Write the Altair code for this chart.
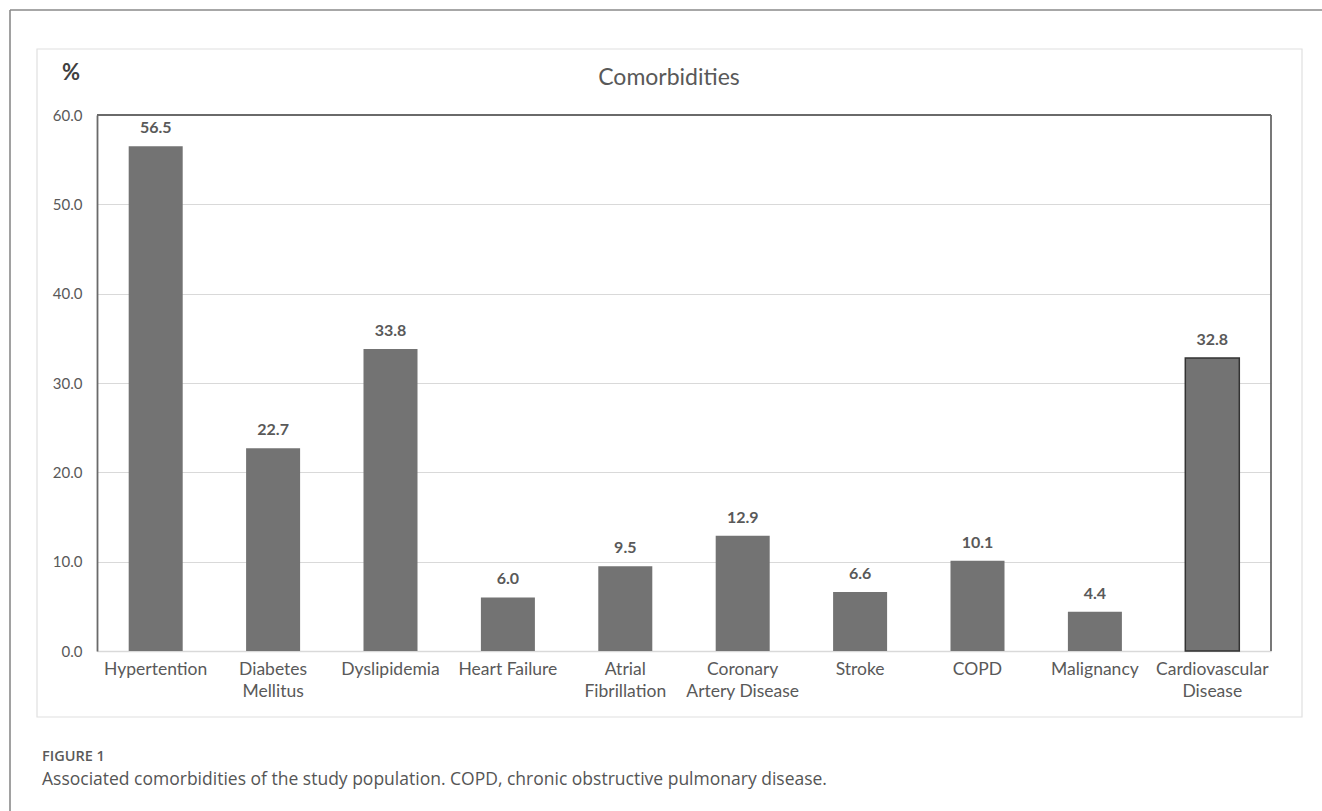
import altair as alt
import pandas as pd

categories = ["Hypertention", "Diabetes|Mellitus", "Dyslipidemia", "Heart Failure",
              "Atrial|Fibrillation", "Coronary|Artery Disease", "Stroke", "COPD",
              "Malignancy", "Cardiovascular|Disease"]
values = [56.5, 22.7, 33.8, 6.0, 9.5, 12.9, 6.6, 10.1, 4.4, 32.8]
y_ticks = [0, 10, 20, 30, 40, 50, 60]

df = pd.DataFrame({"category": categories, "value": values})
one = pd.DataFrame({"k": [0]})

W, H = 1174, 536
PL, PT = 97, 115
TOTAL_W, TOTAL_H = 1322, 811

x_enc = alt.X("category:N", sort=None,
              scale=alt.Scale(paddingInner=0.54, paddingOuter=0.27),
              axis=alt.Axis(title=None, labelAngle=0, labelExpr="split(datum.label, '|')",
                            ticks=False, domainColor="#d9d9d9", domainWidth=1.5,
                            labelColor="#595959", labelFont="Lato", labelFontSize=17.5,
                            labelPadding=9, labelLineHeight=22, grid=False,
                            labelBaseline="top"))
y_enc = alt.Y("value:Q",
              scale=alt.Scale(domain=[0, 60], nice=False),
              axis=alt.Axis(title=None, values=y_ticks, format=".1f", ticks=False,
                            labelColor="#595959", labelFont="Lato", labelFontSize=15,
                            labelPadding=15, gridColor="#d9d9d9", gridWidth=1.2,
                            domainColor="#6a6a6a", domainWidth=1.8))

base = alt.Chart(df)
bars = base.mark_bar(color="#737373", stroke="#333333", strokeWidth=1.5).encode(
    x=x_enc, y=y_enc,
    strokeOpacity=alt.condition(alt.datum.category == "Cardiovascular|Disease",
                                alt.value(1), alt.value(0)))
labels = base.mark_text(baseline="middle", dy=-18, font="Lato", fontSize=16,
                        fontWeight="bold", color="#595959").encode(
    x=alt.X("category:N", sort=None), y="value:Q", text=alt.Text("value:Q", format=".1f"))

c1 = alt.Chart(one)
top_rule = c1.mark_rule(color="#6a6a6a", strokeWidth=1.8).encode(
    x=alt.value(0), x2=alt.value(W), y=alt.value(0))
right_rule = c1.mark_rule(color="#6a6a6a", strokeWidth=1.8).encode(
    x=alt.value(W), y=alt.value(0), y2=alt.value(H))

inner_frame = c1.mark_rect(fillOpacity=0, stroke="#e0e0e0", strokeWidth=1.2).encode(
    x=alt.value(37 - PL), x2=alt.value(1302 - PL),
    y=alt.value(49 - PT), y2=alt.value(717 - PT))

outer_top = c1.mark_rule(color="#8a8a8a", strokeWidth=1.6).encode(
    x=alt.value(10 - PL), x2=alt.value(TOTAL_W - PL), y=alt.value(10 - PT))
outer_left = c1.mark_rule(color="#8a8a8a", strokeWidth=1.6).encode(
    x=alt.value(10 - PL), y=alt.value(10 - PT), y2=alt.value(TOTAL_H - PT))

pct = c1.mark_text(font="Lato", fontSize=22, fontWeight="bold", color="#404040",
                   baseline="middle", align="center").encode(
    x=alt.value(71 - PL), y=alt.value(73 - PT), text=alt.value("%"))
title = c1.mark_text(font="Lato", fontSize=23, color="#595959", baseline="middle",
                     align="center").encode(
    x=alt.value(669 - PL), y=alt.value(78 - PT), text=alt.value("Comorbidities"))

fig_label = c1.mark_text(font="Open Sans", fontSize=14.5, fontWeight=600, color="#5a5a5a",
                         baseline="middle", align="left").encode(
    x=alt.value(42 - PL), y=alt.value(757 - PT), text=alt.value("FIGURE 1"))
caption = c1.mark_text(font="Open Sans", fontSize=17.5, color="#555555",
                       baseline="middle", align="left").encode(
    x=alt.value(42 - PL), y=alt.value(780 - PT),
    text=alt.value("Associated comorbidities of the study population. COPD, chronic obstructive pulmonary disease."))

chart = alt.layer(
    inner_frame, outer_top, outer_left, bars, labels, top_rule, right_rule,
    pct, title, fig_label, caption
).properties(
    width=W, height=H,
    padding={"left": PL, "top": PT, "right": TOTAL_W - PL - W, "bottom": TOTAL_H - PT - H},
    autosize=alt.AutoSizeParams(type="none"),
    background="white",
).configure_view(stroke=None)

chart.save("out.html", embed_options={"renderer": "svg", "actions": False})
